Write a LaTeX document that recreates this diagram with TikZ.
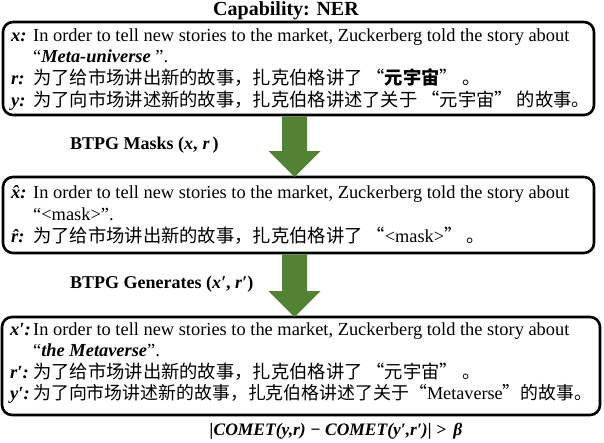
\documentclass[tikz,border=0pt]{standalone}
\usepackage{fontspec}
\setmainfont{Liberation Serif}
\newfontfamily\cjk{Noto Sans CJK SC}
\usetikzlibrary{calc}
\definecolor{agreen}{RGB}{84,130,53}
\begin{document}
\begin{tikzpicture}[x=1pt,y=-1pt,
  box/.style={draw, line width=2.6pt, rounded corners=10pt, inner sep=0pt, outer sep=0pt},
  lbl/.style={anchor=base west, inner sep=0pt, font=\fontsize{18.5}{20}\selectfont\bfseries\itshape},
  en/.style={anchor=base west, inner sep=0pt, font=\fontsize{18.4}{20}\selectfont},
  zh/.style={anchor=base west, inner sep=0pt, font=\fontsize{18.3}{20}\selectfont\cjk},
  head/.style={anchor=base west, inner sep=0pt, font=\fontsize{18}{20}\selectfont\bfseries},
  blockarrow/.style={fill=agreen}]
\useasboundingbox (0,0) rectangle (604,442);
% title
\node[anchor=base, inner sep=0pt, font=\fontsize{20}{22}\selectfont\bfseries] (title) at (286,15) {Capability: NER};
% boxes
\node[box, minimum width=591pt, minimum height=93pt] (box1) at (298.5,68.5) {};
\node[box, minimum width=591pt, minimum height=76pt] (box2) at (298.5,215) {};
\node[box, minimum width=598pt, minimum height=98pt] (box3) at (301,366) {};
% arrows
\coordinate (ax) at (294.5,0);
\fill[blockarrow] (ax |- box2.north) -- ++(-26,-26) -- ++(13.5,0) -- ($(ax |- box1.south)+(-12.5,1.3)$) -- ++(25,0) -- ($(ax |- box2.north)+(12.5,-26)$) -- ++(13.5,0) -- cycle;
\fill[blockarrow] (ax |- box3.north) -- ++(-26,-26) -- ++(13.5,0) -- ($(ax |- box2.south)+(-12.5,1.3)$) -- ++(25,0) -- ($(ax |- box3.north)+(12.5,-26)$) -- ++(13.5,0) -- cycle;
% arrow labels
\node[head] (mlab) at (70,149) {BTPG Masks ({\itshape x},\;{\itshape r}\,)};
\node[head] (glab) at (70,288) {BTPG Generates ({\itshape x′}, {\itshape r′})};
% box 1
\node[lbl] (x1) at (11,41) {x:};
\node[en] (t1a) at (33,41) {In order to tell new stories to the market, Zuckerberg told the story about};
\node[en] (t1b) at (33,62) {“\textbf{\textit{Meta-universe}} ”.};
\node[lbl] (r1) at (11,84) {r:};
\node[zh] (t1c) at (33,84) {为了给市场讲出新的故事，扎克伯格讲了\hspace{4pt}“{\bfseries 元宇宙}”\hspace{4pt}。};
\node[lbl] (y1) at (11,106) {y:};
\node[zh] (t1d) at (33,106) {为了向市场讲述新的故事，扎克伯格讲述了关于\hspace{4pt}“元宇宙”\hspace{4pt}的故事。};
% box 2
\node[lbl] (x2) at (11,198) {\^x:};
\node[en] (t2a) at (33,198) {In order to tell new stories to the market, Zuckerberg told the story about};
\node[en] (t2b) at (33,220) {“<mask>”.};
\node[lbl] (r2) at (11,242) {\^r:};
\node[zh] (t2c) at (33,242) {为了给市场讲出新的故事，扎克伯格讲了\hspace{4pt}“{\rmfamily <mask>}”\hspace{4pt}。};
% box 3
\node[lbl] (x3) at (10,335) {x′:};
\node[en] (t3a) at (33,335) {In order to tell new stories to the market, Zuckerberg told the story about};
\node[en] (t3b) at (33,356) {“\textbf{\textit{the Metaverse}}”.};
\node[lbl] (r3) at (10,378) {r′:};
\node[zh] (t3c) at (33,378) {为了给市场讲出新的故事，扎克伯格讲了\hspace{4pt}“元宇宙”\hspace{4pt}。};
\node[lbl] (y3) at (10,399) {y′:};
\node[zh, font=\fontsize{17.9}{20}\selectfont\cjk] (t3d) at (33,399) {为了向市场讲述新的故事，扎克伯格讲述了关于“{\rmfamily\fontsize{18.2}{20}\selectfont Metaverse}”的故事。};
% formula
\node[anchor=base, inner sep=0pt, font=\fontsize{17.5}{22}\selectfont\bfseries\itshape] (formula) at (336,435) {|COMET(y,r) − COMET(y′,r′)| > \,β};
\end{tikzpicture}
\end{document}
